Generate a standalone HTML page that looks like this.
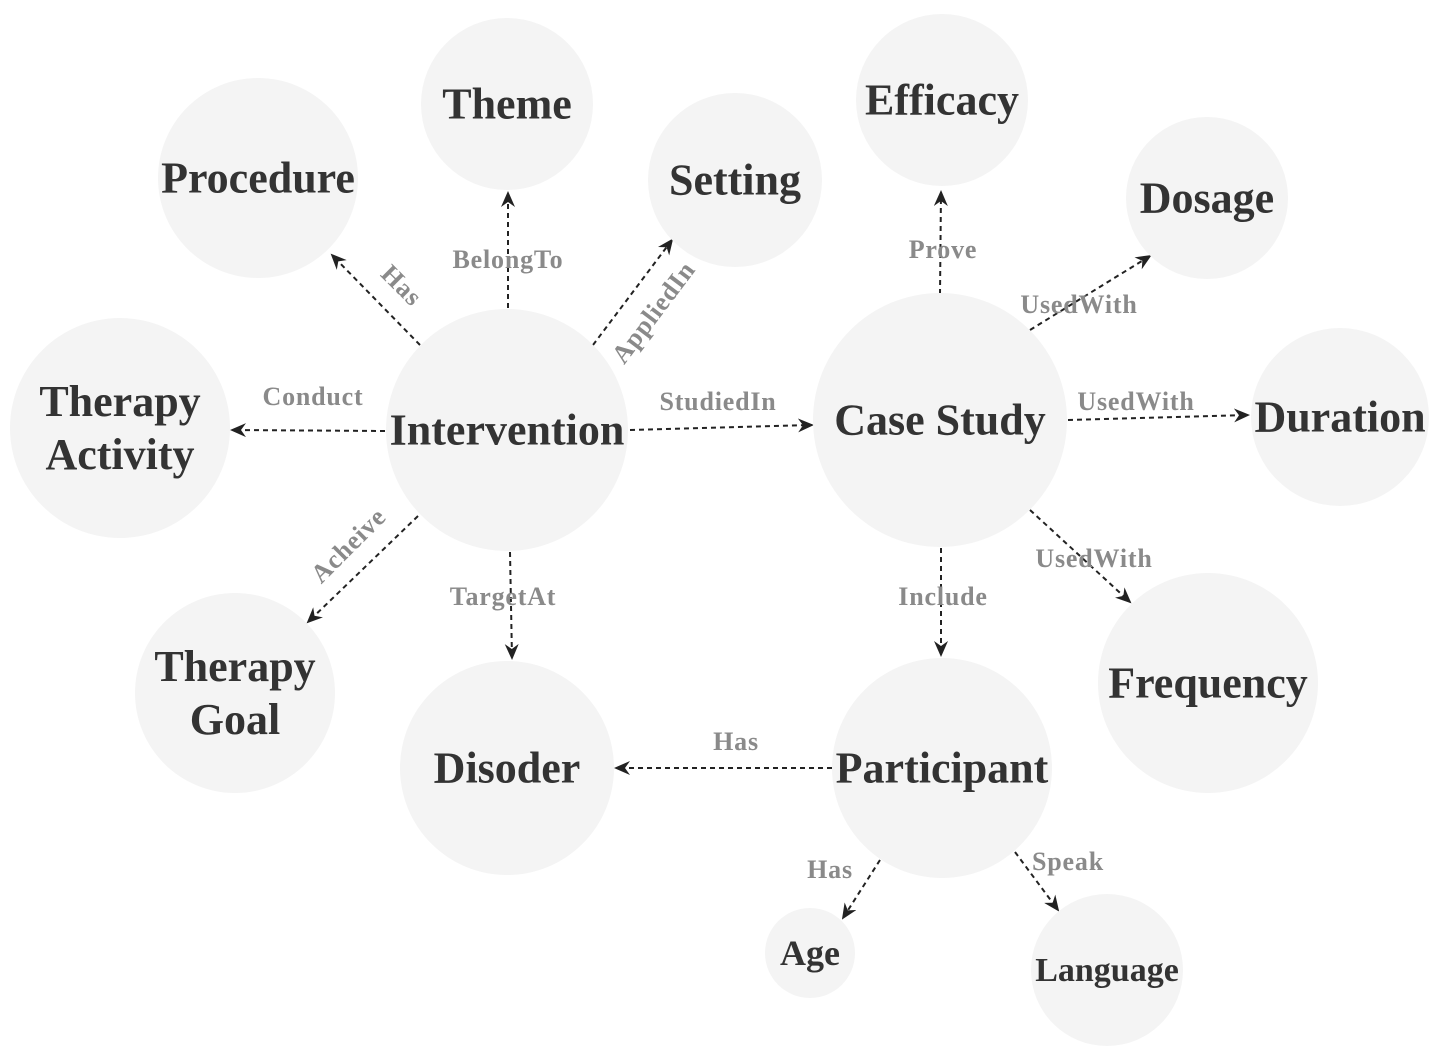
<!DOCTYPE html>
<html><head><meta charset="utf-8"><style>
html,body{margin:0;padding:0;background:#fff;}
svg{display:block;}
.node-text{font-family:"Liberation Serif",serif;font-weight:bold;fill:#333;}
.edge-label{font-family:"Liberation Serif",serif;font-weight:bold;fill:#8a8a8a;font-size:26px;letter-spacing:0.8px;}
</style></head><body>
<svg id="diagram" width="1440" height="1058" viewBox="0 0 1440 1058" xmlns="http://www.w3.org/2000/svg">
<defs>
<marker id="arrow" viewBox="0 0 16 14" refX="14" refY="7" markerWidth="16" markerHeight="14" markerUnits="userSpaceOnUse" orient="auto">
<path d="M0,0 L16,7 L0,14 L5,7 Z" fill="#222"/>
</marker>
</defs>
<g id="edges"></g>
<g id="nodes"></g>
</svg>
<script>
const nodeNames = ["Theme","Procedure","Setting","Efficacy","Dosage","Therapy|Activity","Intervention","Case Study","Duration","Therapy|Goal","Disoder","Participant","Frequency","Age","Language"];
const nodeX = [507,258,735,942,1207,120,507,940,1340,235,507,942,1208,810,1107];
const nodeY = [104,178,180,100,198,428,430,420,417,693,768,768,683,953,970];
const nodeR = [86,100,87,86,81,110,121,127,89,100,107,110,110,45,76];
const nodeFont = [44,44,44,44,44,44,44,44,44,44,44,44,44,36,34];

const edgeLabels = ["Has","BelongTo","AppliedIn","Conduct","StudiedIn","Acheive","TargetAt","Prove","UsedWith","UsedWith","UsedWith","Include","Has","Has","Speak"];
const edgeFrom = [[420,345],[508,308],[593,345],[385,431],[630,430],[418,516],[510,552],[940,294],[1030,330],[1068,420],[1030,510],[941,548],[832,768],[880,860],[1015,852]];
const edgeTo = [[332,255],[508,193],[672,240],[232,430],[812,425],[308,622],[512,658],[941,192],[1150,256],[1248,415],[1130,602],[941,655],[616,768],[843,918],[1058,910]];
const labelPos = [[402,285],[508,259],[653,312],[313,396],[718,401],[348,545],[503,596],[943,249],[1079,304],[1136,401],[1094,558],[943,596],[736,741],[830,869],[1068,861]];
const labelRot = [45,0,-53,0,0,-45,0,0,0,0,0,0,0,0,0];

const NS = "http://www.w3.org/2000/svg";
const gN = document.getElementById("nodes");
const gE = document.getElementById("edges");

for (let i = 0; i < nodeNames.length; i++) {
  const c = document.createElementNS(NS, "circle");
  c.setAttribute("cx", nodeX[i]); c.setAttribute("cy", nodeY[i]); c.setAttribute("r", nodeR[i]);
  c.setAttribute("fill", "#f4f4f4");
  const slug = nodeNames[i].replace("|"," ").toLowerCase().replace(/ /g,"-");
  
  
  gN.appendChild(c);
  const lines = nodeNames[i].split("|");
  const fs = nodeFont[i];
  const lh = fs * 1.2;
  lines.forEach((ln, j) => {
    const t = document.createElementNS(NS, "text");
    t.setAttribute("class", "node-text");
    t.setAttribute("x", nodeX[i]);
    const y = nodeY[i] + (j - (lines.length - 1) / 2) * lh + fs * 0.33;
    t.setAttribute("y", y);
    t.setAttribute("font-size", fs);
    t.setAttribute("text-anchor", "middle");
    t.textContent = ln;
    
    
    gN.appendChild(t);
  });
}

for (let i = 0; i < edgeLabels.length; i++) {
  const l = document.createElementNS(NS, "line");
  l.setAttribute("x1", edgeFrom[i][0]); l.setAttribute("y1", edgeFrom[i][1]);
  l.setAttribute("x2", edgeTo[i][0]); l.setAttribute("y2", edgeTo[i][1]);
  l.setAttribute("stroke", "#222"); l.setAttribute("stroke-width", "2");
  l.setAttribute("stroke-dasharray", "5,4");
  l.setAttribute("marker-end", "url(#arrow)");
  
  
  gE.appendChild(l);
  const t = document.createElementNS(NS, "text");
  t.setAttribute("class", "edge-label");
  t.setAttribute("text-anchor", "middle");
  t.setAttribute("x", labelPos[i][0]); t.setAttribute("y", labelPos[i][1] + 9);
  if (labelRot[i]) t.setAttribute("transform", "rotate(" + labelRot[i] + " " + labelPos[i][0] + " " + labelPos[i][1] + ")");
  t.textContent = edgeLabels[i];
  
  
  gN.appendChild(t);
}
</script>
</body></html>
